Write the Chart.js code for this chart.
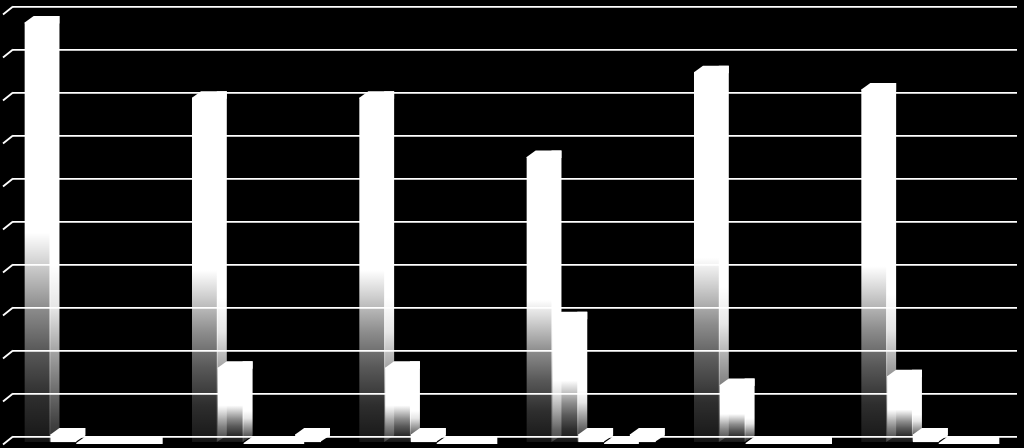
<!DOCTYPE html>
<html>
<head>
<meta charset="utf-8">
<style>
html, body { margin: 0; padding: 0; background: #000; }
canvas { display: block; }
</style>
<script src="https://cdn.jsdelivr.net/npm/chart.js@4"></script>
</head>
<body>
<canvas id="myChart" width="1024" height="448"></canvas>
<script>
const categories = ['1', '2', '3', '4', '5', '6'];
const series1 = [97.8, 80.3, 80.3, 66.5, 86.2, 82.2];
const series2 = [2, 17.5, 17.5, 29, 13.5, 15.5];
const series3 = [0, 0, 2, 2, 0, 2];
const series4 = [0, 0, 0, 0, 0, 0];
const series5 = [0, 2, 0, 2, 0, 0];
const allSeries = [series1, series2, series3, series4, series5];

// how far the front of a bar sits from the back wall
const depthX = 9;
const depthY = 6.5;
const shiftX = 7.5;

// [position down the bar, opacity]
const frontFade = [[0, 1], [0.5, 1], [0.56, 0.85], [0.6, 0.75], [0.68, 0.55], [0.78, 0.35], [0.89, 0.18], [0.96, 0.12], [1, 0.08]];
const sideFade = [[0, 1], [0.58, 1], [0.68, 0.9], [0.78, 0.65], [0.89, 0.4], [0.96, 0.25], [1, 0.2]];
const solidFade = [[0, 1], [1, 1]];

function fade(ctx, top, bottom, stops) {
    const g = ctx.createLinearGradient(0, top, 0, bottom);
    stops.forEach(function(s) {
        g.addColorStop(s[0], 'rgba(255,255,255,' + s[1] + ')');
    });
    return g;
}

function drawFaces(ctx, meta) {
    meta.data.forEach(function(bar) {
        const p = bar.getProps(['x', 'y', 'base', 'width'], true);
        const l = p.x - p.width / 2;
        const r = p.x + p.width / 2;
        // side face, its top corner gets covered by the top face
        if (p.base - p.y > 0.5) {
            // the tiny bars stay plain white
            ctx.fillStyle = fade(ctx, p.y, p.base, p.base - p.y < 20 ? solidFade : sideFade);
            ctx.beginPath();
            ctx.moveTo(r - 1, p.y - depthY);
            ctx.lineTo(r + depthX, p.y - depthY);
            ctx.lineTo(r + depthX, p.base - depthY);
            ctx.lineTo(r - 1, p.base);
            ctx.closePath();
            ctx.fill();
        }
        // top face
        ctx.fillStyle = '#fff';
        ctx.beginPath();
        ctx.moveTo(l, p.y);
        ctx.lineTo(l + depthX, p.y - depthY);
        ctx.lineTo(r + depthX, p.y - depthY);
        ctx.lineTo(r + depthX, p.y + 1);
        ctx.lineTo(r, p.y + 1);
        ctx.lineTo(l, p.y + 1);
        ctx.closePath();
        ctx.fill();
    });
}

const fakeDepth = {
    id: 'fakeDepth',
    // little diagonal stubs on the left wall
    beforeDatasetsDraw(chart) {
        const ctx = chart.ctx;
        const y = chart.scales.y;
        ctx.save();
        ctx.strokeStyle = '#fff';
        ctx.lineWidth = 1.8;
        y.ticks.forEach(function(t) {
            const py = y.getPixelForValue(t.value);
            ctx.beginPath();
            ctx.moveTo(chart.chartArea.left, py);
            ctx.lineTo(chart.chartArea.left - 10, py + 8);
            ctx.stroke();
        });
        ctx.restore();
    },
    // chart.js paints the first dataset last, here the later ones must lie on top
    beforeDatasetDraw() {
        return false;
    },
    afterDatasetsDraw(chart) {
        const ctx = chart.ctx;
        chart.getSortedVisibleDatasetMetas().forEach(function(meta) {
            ctx.save();
            ctx.translate(-shiftX, depthY);
            meta.controller.draw();
            drawFaces(ctx, meta);
            ctx.restore();
        });
    }
};

const ctx = document.getElementById('myChart').getContext('2d');
const myChart = new Chart(ctx, {
    type: 'bar',
    data: {
        labels: categories,
        datasets: allSeries.map(function(values, i) {
            return {
                label: 'Series ' + (i + 1),
                data: values,
                barPercentage: 1,
                categoryPercentage: 0.771,
                borderWidth: 0,
                backgroundColor: function(c) {
                    if (!c.chart.chartArea || c.type !== 'data') {
                        return '#fff';
                    }
                    const y = c.chart.scales.y;
                    const top = y.getPixelForValue(c.raw);
                    const bottom = y.getPixelForValue(0);
                    return fade(c.chart.ctx, top, bottom, bottom - top < 20 ? solidFade : frontFade);
                }
            };
        })
    },
    plugins: [fakeDepth],
    options: {
        responsive: false,
        animation: false,
        devicePixelRatio: 1,
        layout: { padding: { left: 13, right: 7, top: 6.5, bottom: 11.5 } },
        scales: {
            x: { display: false },
            y: {
                min: 0,
                max: 100,
                ticks: { stepSize: 10, display: false },
                border: { display: false },
                grid: { color: '#fff', lineWidth: 1.8, drawTicks: false }
            }
        },
        plugins: {
            legend: { display: false },
            tooltip: { enabled: false }
        }
    }
});
</script>
</body>
</html>
